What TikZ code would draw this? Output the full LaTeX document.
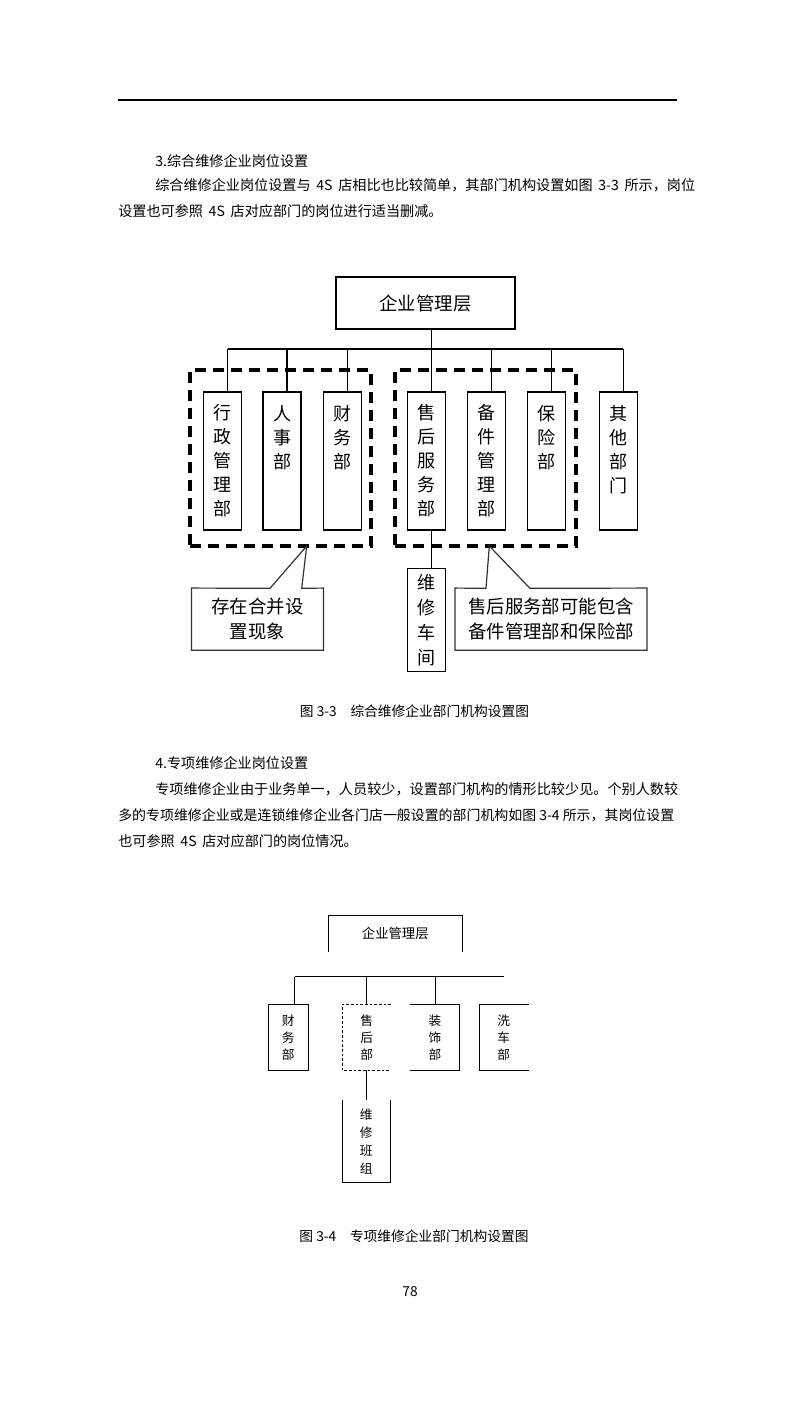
\documentclass[tikz,border=0pt]{standalone}
\usepackage{fontspec}
\setmainfont{Noto Sans CJK SC}
\usetikzlibrary{calc}

\newcommand{\wsp}{\hskip 0.4em\relax}

\tikzset{
    txt/.style={anchor=west,inner sep=0pt,font=\fontsize{10.6}{12}\selectfont},
    dept/.style={draw,line width=0.8pt,minimum width=28.5pt,minimum height=103.5pt,inner sep=0pt,align=center,font=\fontsize{13.5}{18}\selectfont},
    grp/.style={draw,line width=2.4pt,dash pattern=on 8pt off 5.5pt,minimum width=135.75pt,minimum height=132pt},
    note/.style={inner sep=0pt,align=center,font=\fontsize{13.8}{18.75}\selectfont},
    dept2/.style={inner sep=0pt,minimum height=49.3pt,align=center,font=\fontsize{9.5}{12.75}\selectfont},
}

\begin{document}
\begin{tikzpicture}[x=0.75pt,y=-0.75pt]
    \fill[white] (0,0) rectangle (794,1415);
    \useasboundingbox (0,0) rectangle (794,1415);
    \draw[line width=1.5pt] (118,100) -- (677,100);

    \node[txt] (h3) at (155,161) {3.综合维修企业岗位设置};
    \node[txt] (p3a) at (155,185) {综合维修企业岗位设置与\wsp 4S\wsp 店相比也比较简单，其部门机构设置如图\wsp 3-3\wsp 所示，岗位};
    \node[txt] (p3b) at (118,211) {设置也可参照\wsp 4S\wsp 店对应部门的岗位进行适当删减。};

    \node[draw,line width=0.8pt,minimum width=134.25pt,minimum height=39pt,font=\fontsize{13.8}{16}\selectfont] (top) at (425.5,303) {企业管理层};
    \foreach \n/\x/\t in {xz/222.5/{行\\政\\管\\理\\部},rs/282/{人\\事\\部\\~\\~},cw/342.5/{财\\务\\部\\~\\~},
        sh/426.5/{售\\后\\服\\务\\部},bj/486.5/{备\\件\\管\\理\\部},bx/546.5/{保\\险\\部\\~\\~},qt/618.3/{其\\他\\部\\门\\~}}{
        \node[dept] (\n) at (\x,461) {\t};
        };
    \coordinate (bus) at (0,349);
    \draw[line width=0.8pt] ([xshift=4.5pt]top.south) -- ([xshift=4.5pt]top.south |- bus);
    \draw[line width=0.8pt] ([xshift=3.75pt]xz.north |- bus) -- ([xshift=3.75pt]qt.north |- bus);
    \foreach \n in {xz,rs,cw,sh,bj,bx,qt}{
        \draw[line width=0.8pt] ([xshift=3.75pt]\n.north) -- ([xshift=3.75pt]\n.north |- bus);
        };
    \node[grp] (grpA) at (280.5,458) {};
    \node[grp] (grpB) at (485.5,458) {};

    \node[draw,line width=0.8pt,minimum width=28.5pt,minimum height=77.5pt,inner sep=0pt,align=center,font=\fontsize{13.5}{18.75}\selectfont] (wx) at (426.7,620) {维\\修\\车\\间};
    \draw[line width=0.8pt] ([xshift=3.75pt]sh.south) -- ([xshift=3.75pt]sh.south |- wx.north);

    \node[note,minimum width=98.7pt,minimum height=46.3pt] (noteA) at (257.5,619.2) {存在合并设\\置现象};
    \node[note,minimum width=143.5pt,minimum height=46.3pt] (noteB) at (551,619.2) {售后服务部可能包含\\备件管理部和保险部};
    \coordinate (tipA) at (306.7,546);
    \coordinate (tipB) at (489.3,546);
    \draw[line width=0.9pt,black!80] (noteA.north west) -- (270,588.3) -- (tipA) -- (301.7,588.3)
        -- (noteA.north east) |- (noteA.south west) -- cycle;
    \draw[line width=0.9pt,black!80] (noteB.north west) -- (486,588.3) -- (tipB) -- (530,588.3)
        -- (noteB.north east) |- (noteB.south west) -- cycle;

    \node[inner sep=0pt,font=\fontsize{10.3}{12}\selectfont] (cap3) at (414.5,711) {图 3-3\quad 综合维修企业部门机构设置图};

    \node[txt] (h4) at (155,763) {4.专项维修企业岗位设置};
    \node[txt] (p4a) at (155,789) {专项维修企业由于业务单一，人员较少，设置部门机构的情形比较少见。个别人数较};
    \node[txt,font=\fontsize{10.45}{12}\selectfont] (p4b) at (118,815) {多的专项维修企业或是连锁维修企业各门店一般设置的部门机构如图 3-4 所示，其岗位设置};
    \node[txt] (p4c) at (118,841) {也可参照\wsp 4S\wsp 店对应部门的岗位情况。};

    \node[minimum width=100.5pt,minimum height=27pt,inner sep=0pt,font=\fontsize{10}{12}\selectfont] (top2) at (395.3,933.7) {企业管理层};
    \draw[line width=0.75pt] (top2.south west) |- (top2.north east) -- (top2.south east);
    \node[dept2,minimum width=30pt] (cw2) at (288.3,1037.2) {财\\务\\部};
    \node[dept2,minimum width=36pt] (sh2) at (366.7,1037.2) {售\\后\\部};
    \node[dept2,minimum width=36.5pt] (zs2) at (435,1037.2) {装\\饰\\部};
    \node[dept2,minimum width=36.75pt] (xc2) at (503.8,1037.2) {洗\\车\\部};
    \draw[line width=0.75pt] (cw2.north west) rectangle (cw2.south east);
    \draw[line width=0.75pt,dash pattern=on 2pt off 1.5pt] (sh2.north east) -| (sh2.south west) -- (sh2.south east);
    \draw[line width=0.75pt] (zs2.north west) -| (zs2.south east) -- (zs2.south west);
    \draw[line width=0.75pt] (xc2.north east) -| (xc2.south west) -- (xc2.south east);
    \coordinate (bus2) at (0,976.7);
    \draw[line width=0.75pt] ([xshift=5pt]cw2.north |- bus2) -- (xc2.north |- bus2);
    \draw[line width=0.75pt] ([xshift=5pt]cw2.north) -- ([xshift=5pt]cw2.north |- bus2);
    \foreach \n in {sh2,zs2}{
        \draw[line width=0.75pt] (\n.north) -- (\n.north |- bus2);
        };
    \node[inner sep=0pt,minimum width=35.5pt,minimum height=61.7pt,align=center,font=\fontsize{9.5}{13.5}\selectfont] (wb2) at (366.3,1141.2) {维\\修\\班\\组};
    \draw[line width=0.75pt] (wb2.north west) |- (wb2.south east) -- (wb2.north east);
    \draw[line width=0.75pt] (sh2.south) -- (sh2.south |- wb2.north);

    \node[inner sep=0pt,font=\fontsize{10.3}{12}\selectfont] (cap4) at (414,1236.7) {图 3-4\quad 专项维修企业部门机构设置图};
    \node[inner sep=0pt,font=\fontsize{10.3}{12}\selectfont] (pg) at (410,1292) {78};
\end{tikzpicture}
\end{document}
